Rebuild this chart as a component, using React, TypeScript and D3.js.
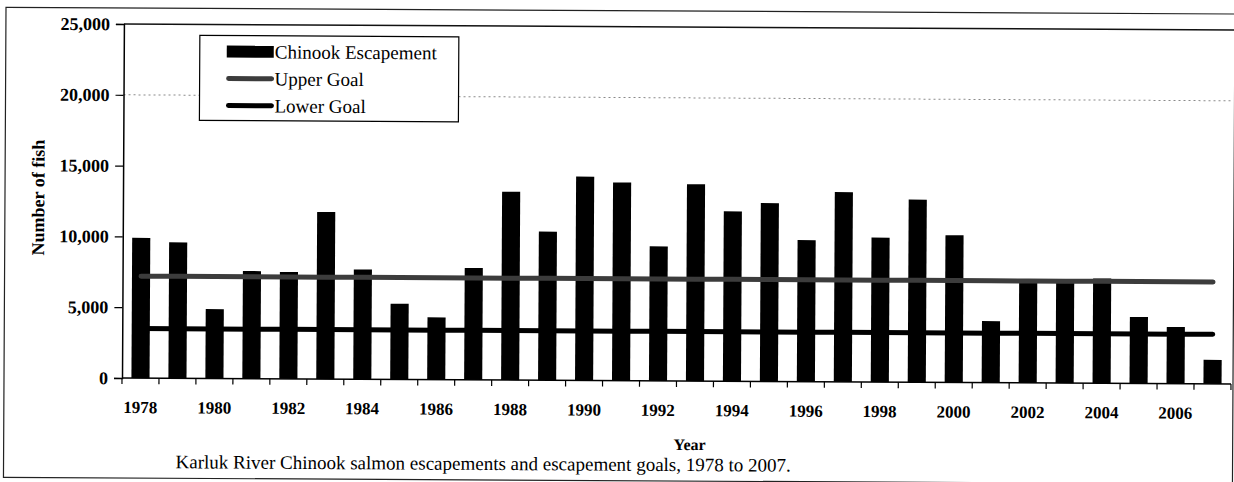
import React, { useEffect, useRef } from 'react';
import * as d3 from 'd3';

const years = [
  '1978', '1979', '1980', '1981', '1982', '1983', '1984', '1985', '1986', '1987',
  '1988', '1989', '1990', '1991', '1992', '1993', '1994', '1995', '1996', '1997',
  '1998', '1999', '2000', '2001', '2002', '2003', '2004', '2005', '2006', '2007',
];

const escapement = [
  9900, 9600, 4900, 7600, 7550, 11800, 7750, 5350, 4400, 7900,
  13300, 10500, 14400, 14000, 9500, 13900, 12000, 12600, 10000, 13400,
  10200, 12900, 10400, 4350, 7150, 7150, 7400, 4700, 4000, 1700,
];

const upperGoal = [
  7200, 7200, 7200, 7200, 7200, 7200, 7200, 7200, 7200, 7200,
  7200, 7200, 7200, 7200, 7200, 7200, 7200, 7200, 7200, 7200,
  7200, 7200, 7200, 7200, 7200, 7200, 7200, 7200, 7200, 7200,
];

const lowerGoal = [
  3500, 3500, 3500, 3500, 3500, 3500, 3500, 3500, 3500, 3500,
  3500, 3500, 3500, 3500, 3500, 3500, 3500, 3500, 3500, 3500,
  3500, 3500, 3500, 3500, 3500, 3500, 3500, 3500, 3500, 3500,
];

const yTicks = [0, 5000, 10000, 15000, 20000, 25000];
const gridValues = [20000];
const legendItems = ['Chinook Escapement', 'Upper Goal', 'Lower Goal'];

const FONT = 'Liberation Serif, serif';

const App = () => {
  const svgRef = useRef();

  useEffect(() => {
    const svg = d3.select(svgRef.current);
    svg.selectAll('*').remove();

    const left = 122, right = 1231, top = 24, bottom = 378;

    // scanned page is tilted a little, rotate round the plot origin
    const root = svg.append('g')
      .attr('transform', `rotate(0.31, ${left}, ${bottom})`)
      .style('font-family', FONT);

    // outer chart frame
    root.append('rect')
      .attr('x', 4).attr('y', 8)
      .attr('width', 1229).attr('height', 470)
      .attr('fill', 'none').attr('stroke', '#222').attr('stroke-width', 1.2);

    const x = d3.scaleBand()
      .domain(years)
      .range([left, right])
      .paddingInner(0.51)
      .paddingOuter(0.255);

    const y = d3.scaleLinear()
      .domain([0, 25000])
      .range([bottom, top]);

    // grid
    root.append('g')
      .selectAll('line')
      .data(gridValues)
      .enter()
      .append('line')
      .attr('x1', left).attr('x2', right)
      .attr('y1', d => y(d)).attr('y2', d => y(d))
      .attr('stroke', '#8a8a8a')
      .attr('stroke-width', 1)
      .attr('stroke-dasharray', '2,3');

    // plot area top edge
    root.append('line')
      .attr('x1', left).attr('x2', 1234)
      .attr('y1', top).attr('y2', top)
      .attr('stroke', '#111').attr('stroke-width', 1.5);

    // bars
    root.append('g')
      .selectAll('rect')
      .data(escapement)
      .enter()
      .append('rect')
      .attr('x', (d, i) => x(years[i]))
      .attr('y', d => y(d))
      .attr('width', x.bandwidth())
      .attr('height', d => bottom - y(d))
      .attr('fill', '#000');

    const line = d3.line()
      .x((d, i) => x(years[i]) + x.bandwidth() / 2)
      .y(d => y(d));

    root.append('path')
      .datum(upperGoal)
      .attr('d', line)
      .attr('fill', 'none')
      .attr('stroke', '#3c3c3c')
      .attr('stroke-width', 5)
      .attr('stroke-linecap', 'round');

    root.append('path')
      .datum(lowerGoal)
      .attr('d', line)
      .attr('fill', 'none')
      .attr('stroke', '#000')
      .attr('stroke-width', 5)
      .attr('stroke-linecap', 'round');

    // y axis
    const yAxis = d3.axisLeft(y)
      .tickValues(yTicks)
      .tickSize(8)
      .tickPadding(6)
      .tickFormat(d3.format(','));

    const gy = root.append('g')
      .attr('transform', `translate(${left},0)`)
      .call(yAxis);
    gy.select('.domain').attr('stroke', '#000').attr('stroke-width', 1.5);
    gy.selectAll('.tick line').attr('stroke', '#000').attr('stroke-width', 1.2);
    gy.selectAll('.tick text')
      .style('font-family', FONT)
      .attr('font-size', 18)
      .attr('font-weight', 'bold')
      .attr('fill', '#000');

    // x axis: ticks between categories, labels every other year
    root.append('line')
      .attr('x1', left).attr('x2', right)
      .attr('y1', bottom).attr('y2', bottom)
      .attr('stroke', '#000').attr('stroke-width', 1.5);

    root.append('g')
      .selectAll('line')
      .data(d3.range(years.length + 1))
      .enter()
      .append('line')
      .attr('x1', i => left + i * x.step())
      .attr('x2', i => left + i * x.step())
      .attr('y1', bottom).attr('y2', bottom + 6)
      .attr('stroke', '#000').attr('stroke-width', 1.2);

    root.append('g')
      .selectAll('text')
      .data(years.filter((d, i) => i % 2 === 0))
      .enter()
      .append('text')
      .attr('x', d => x(d) + x.bandwidth() / 2)
      .attr('y', 413)
      .attr('text-anchor', 'middle')
      .attr('font-size', 17)
      .attr('font-weight', 'bold')
      .text(d => d);

    // axis titles
    root.append('text')
      .attr('transform', `translate(37,198) rotate(-90)`)
      .attr('text-anchor', 'middle')
      .attr('dy', '0.35em')
      .attr('font-size', 18)
      .attr('font-weight', 'bold')
      .text('Number of fish');

    root.append('text')
      .attr('x', 690)
      .attr('y', 447)
      .attr('text-anchor', 'middle')
      .attr('font-size', 16)
      .attr('font-weight', 'bold')
      .text('Year');

    root.append('text')
      .attr('x', 176)
      .attr('y', 468)
      .attr('font-size', 19)
      .text('Karluk River Chinook salmon escapements and escapement goals, 1978 to 2007.');

    // legend
    const lg = root.append('g').attr('transform', 'translate(198,35)');
    lg.append('rect')
      .attr('width', 259).attr('height', 85)
      .attr('fill', '#fff').attr('stroke', '#000').attr('stroke-width', 1.2);

    const rows = lg.selectAll('g.row')
      .data(legendItems)
      .enter()
      .append('g')
      .attr('class', 'row')
      .attr('transform', (d, i) => `translate(0,${16 + i * 27})`);

    rows.filter((d, i) => i === 0)
      .append('rect')
      .attr('x', 27).attr('y', -6)
      .attr('width', 47).attr('height', 12)
      .attr('fill', '#000');

    rows.filter((d, i) => i > 0)
      .append('line')
      .attr('x1', 29).attr('x2', 72)
      .attr('y1', 0).attr('y2', 0)
      .attr('stroke', (d, i) => (i === 0 ? '#3c3c3c' : '#000'))
      .attr('stroke-width', 5)
      .attr('stroke-linecap', 'round');

    rows.append('text')
      .attr('x', 75)
      .attr('y', 0)
      .attr('dy', '0.35em')
      .attr('font-size', 19)
      .text(d => d);
  }, []);

  return (
    <svg ref={svgRef} width={1234} height={482} style={{ position: 'absolute', left: 0, top: 0, background: '#fff' }}></svg>
  );
};

export default App;
